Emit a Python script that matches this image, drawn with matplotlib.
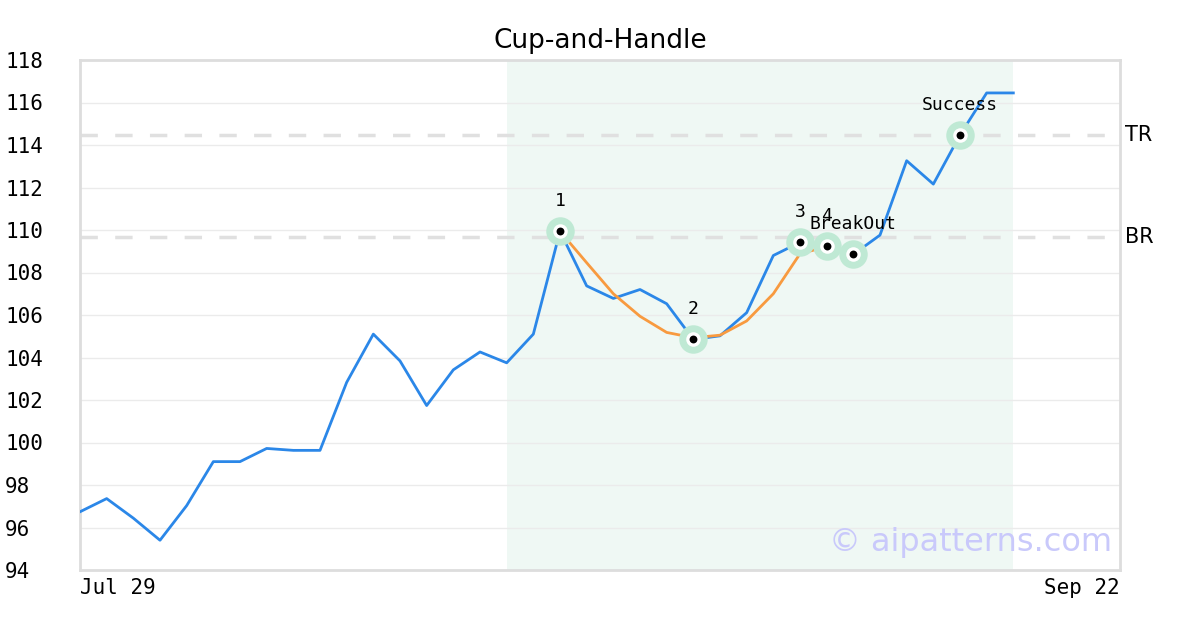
import matplotlib
matplotlib.use("Agg")
import matplotlib.pyplot as plt

# price series (one value per trading day)
prices = [96.74, 97.36, 96.44, 95.4, 97.03, 99.1, 99.1, 99.72, 99.63, 99.63,
          102.83, 105.1, 103.84, 101.74, 103.42, 104.26, 103.75, 105.1, 109.94, 107.37,
          106.78, 107.2, 106.53, 104.85, 105.02, 106.11, 108.8, 109.42, 109.27, 108.85,
          109.76, 113.26, 112.16, 114.47, 116.45, 116.45]

# fitted cup curve, starts at index 18
cup_start = 18
cup_fit = [109.94, 108.46, 107.0, 105.94, 105.18, 104.93, 105.05, 105.72, 107.0, 108.88, 109.22]

# pattern points
point_idx = [18, 23, 27, 28, 29, 33]
point_labels = ["1", "2", "3", "4", "BreakOut", "Success"]

tr_level = 114.47
br_level = 109.67
shade_start, shade_end = 16, 35

x_ticks = [0, 39]
x_ticklabels = ["Jul 29", "Sep 22"]
y_ticks = list(range(94, 119, 2))

blue = "#2b87e8"
orange = "#f89a3f"

fig = plt.figure(figsize=(12, 6.3), dpi=100)
ax = fig.add_axes([80 / 1200, 60 / 630, 1040 / 1200, 510 / 630])

ax.axvspan(shade_start, shade_end, color="#eff8f4", lw=0, zorder=0)
for y in y_ticks:
    ax.axhline(y, color="#ebebeb", lw=1, zorder=1)
ax.axhline(tr_level, color="#e0e0e0", lw=2.5, dashes=(5, 5), zorder=2)
ax.axhline(br_level, color="#e0e0e0", lw=2.5, dashes=(5, 5), zorder=2)

xs = list(range(len(prices)))
ax.plot(xs, prices, color=blue, lw=2, zorder=3)
cup_x = list(range(cup_start, cup_start + len(cup_fit)))
ax.plot(cup_x, cup_fit, color=orange, lw=2, zorder=4)

px = point_idx
py = [prices[i] for i in point_idx]
ax.scatter(px, py, s=420, color="#bfe9d4", lw=0, zorder=5)
ax.scatter(px, py, s=110, color="white", lw=0, zorder=6)
ax.scatter(px, py, s=32, color="black", lw=0, zorder=7)

mono = "DejaVu Sans Mono"
for i, lab in zip(point_idx, point_labels):
    ax.text(i, prices[i] + 1.41, lab, ha="center", va="center",
            fontsize=13, family=mono, zorder=8)

ax.text(1.005, tr_level, "TR", transform=ax.get_yaxis_transform(), ha="left",
        va="center", fontsize=15)
ax.text(1.005, br_level, "BR", transform=ax.get_yaxis_transform(), ha="left",
        va="center", fontsize=15)

ax.text(0.992, 0.053, "\u00a9 aipatterns.com", transform=ax.transAxes, ha="right",
        va="center", fontsize=23, color="#c9c9fb", zorder=8)

ax.set_xlim(0, 39)
ax.set_ylim(94, 118)
ax.set_yticks(y_ticks)
ax.set_yticklabels([str(y) for y in y_ticks], family=mono, fontsize=15)
for lab in ax.get_yticklabels():
    lab.set_horizontalalignment("left")
ax.tick_params(axis="y", length=0, pad=54)
ax.set_xticks(x_ticks)
ax.set_xticklabels(x_ticklabels, family=mono, fontsize=15)
xl = ax.get_xticklabels()
xl[0].set_horizontalalignment("left")
xl[1].set_horizontalalignment("right")
ax.tick_params(axis="x", length=0, pad=6)

for s in ax.spines.values():
    s.set_color("#dddddd")
    s.set_linewidth(2)

ax.set_title("Cup-and-Handle", fontsize=19, pad=9)

fig.savefig("out.png", dpi=100)
